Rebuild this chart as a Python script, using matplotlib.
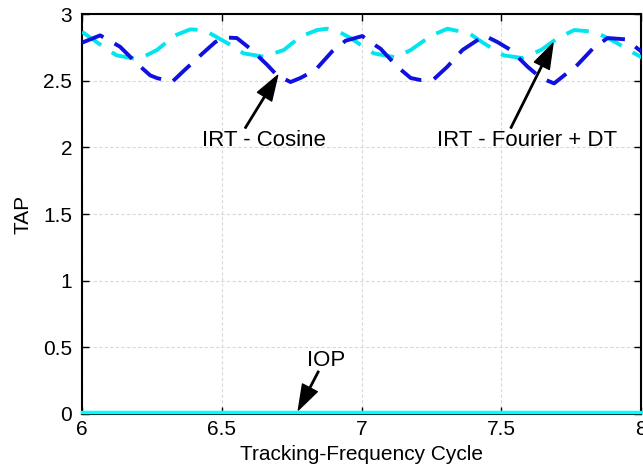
import numpy as np
import matplotlib
matplotlib.use("Agg")
import matplotlib.pyplot as plt

plt.rcParams['font.family'] = ['Liberation Sans', 'DejaVu Sans']

# IRT - Cosine (dark blue dashed)
cos_x = [6.000, 6.065, 6.136, 6.196, 6.244, 6.268, 6.322, 6.362, 6.429, 6.477,
         6.505, 6.554, 6.602, 6.662, 6.698, 6.746, 6.781, 6.835, 6.895, 6.943,
         7.003, 7.020, 7.068, 7.128, 7.176, 7.211, 7.258, 7.307, 7.361, 7.415,
         7.438, 7.486, 7.534, 7.594, 7.642, 7.689, 7.719, 7.773, 7.827, 7.880,
         7.946, 8.006]
cos_y = [2.785, 2.84, 2.755, 2.63, 2.54, 2.52, 2.49, 2.57, 2.70, 2.79,
         2.825, 2.82, 2.74, 2.62, 2.54, 2.49, 2.52, 2.58, 2.72, 2.80,
         2.835, 2.805, 2.74, 2.605, 2.52, 2.505, 2.51, 2.605, 2.73, 2.805,
         2.84, 2.79, 2.73, 2.605, 2.52, 2.48, 2.53, 2.62, 2.74, 2.82,
         2.81, 2.71]

# IRT - Fourier + DT (cyan dashed)
four_x = [6.000, 6.076, 6.124, 6.202, 6.268, 6.333, 6.387, 6.435, 6.471, 6.530,
          6.578, 6.650, 6.722, 6.781, 6.841, 6.877, 6.925, 6.961, 6.996, 7.044,
          7.122, 7.176, 7.247, 7.307, 7.385, 7.438, 7.509, 7.575, 7.642, 7.702,
          7.761, 7.833, 7.880, 7.916, 7.964, 8.006]
four_y = [2.867, 2.755, 2.69, 2.66, 2.73, 2.84, 2.885, 2.88, 2.84, 2.77,
          2.705, 2.68, 2.73, 2.83, 2.88, 2.89, 2.86, 2.82, 2.77, 2.705,
          2.675, 2.73, 2.835, 2.89, 2.855, 2.78, 2.69, 2.67, 2.73, 2.82,
          2.88, 2.867, 2.82, 2.78, 2.72, 2.67]

# IOP (cyan solid, flat at zero)
iop_x = [6.0, 8.0]
iop_y = [0.015, 0.015]

fig = plt.figure(figsize=(6.43, 4.68), dpi=100)
ax = fig.add_axes([0.1275, 0.1154, 0.8695, 0.8546])

ax.plot(iop_x, iop_y, color='#00FFFF', lw=2.5, clip_on=False, zorder=3)
ax.plot(four_x, four_y, color='#00E5EE', lw=2.8, dashes=(6, 3.3), zorder=3)
ax.plot(cos_x, cos_y, color='#1010E0', lw=2.8, dashes=(6, 3.3), zorder=3)

ax.set_xlim(6, 8)
ax.set_ylim(0, 3)
ax.set_xticks([6, 6.5, 7, 7.5, 8])
ax.set_xticklabels(['6', '6.5', '7', '7.5', '8'])
ax.set_yticks([0, 0.5, 1, 1.5, 2, 2.5, 3])
ax.set_yticklabels(['0', '0.5', '1', '1.5', '2', '2.5', '3'])
ax.grid(True, color='#d9d9d9', linestyle=(0, (3, 2)), lw=0.8)
ax.tick_params(direction='in', top=True, right=True, labelsize=15, length=5, width=1)
ax.tick_params(axis='x', pad=4)
ax.tick_params(axis='y', pad=7)
for s in ax.spines.values():
    s.set_linewidth(1.5)

ax.set_xlabel('Tracking-Frequency Cycle', fontsize=15, labelpad=5)
ax.set_ylabel('TAP', fontsize=15, labelpad=8)

arrow = dict(facecolor='black', edgecolor='black', width=1.0, headwidth=12, headlength=18, shrink=0)
ax.annotate('', xy=(6.70, 2.54), xytext=(6.584, 2.145), arrowprops=arrow)
ax.text(6.652, 2.05, 'IRT - Cosine', ha='center', va='center', fontsize=16)
ax.annotate('', xy=(7.685, 2.78), xytext=(7.534, 2.145), arrowprops=arrow)
ax.text(7.593, 2.05, 'IRT - Fourier + DT', ha='center', va='center', fontsize=16)
ax.annotate('', xy=(6.774, 0.03), xytext=(6.846, 0.32), arrowprops=arrow)
ax.text(6.875, 0.40, 'IOP', ha='center', va='center', fontsize=16)

fig.savefig('out.png', dpi=100)
